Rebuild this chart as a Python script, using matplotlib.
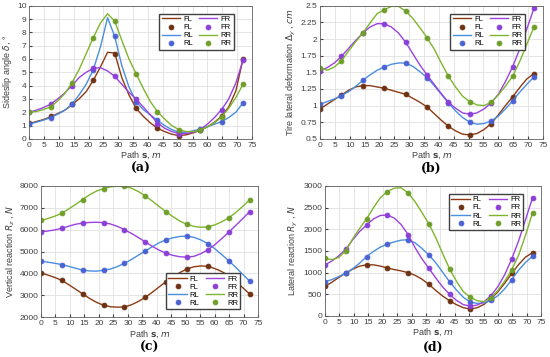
import matplotlib.pyplot as plt

plt.rcParams['font.family'] = ['Liberation Sans', 'DejaVu Sans']

# sample positions of the markers and of the (finer) simulated curves
s_pts = [0, 7.2, 14.4, 21.6, 28.8, 36, 43.2, 50.4, 57.6, 64.8, 72]
s_line = [0, 2.4, 4.8, 7.2, 9.6, 12, 14.4, 16.8, 19.2, 21.6, 24, 26.4, 28.8, 31.2, 33.6, 36,
          38.4, 40.8, 43.2, 45.6, 48, 50.4, 52.8, 55.2, 57.6, 60, 62.4, 64.8, 67.2, 69.6, 72]
wheels = ['FL', 'FR', 'RL', 'RR']

# (a) sideslip angle, deg
a_pts = {
    'FL': [1.2, 1.7, 2.6, 4.4, 6.4, 2.3, 0.8, 0.25, 0.7, 1.7, 6.0],
    'FR': [2.0, 2.6, 4.0, 5.3, 4.7, 3.0, 1.1, 0.4, 0.7, 2.2, 5.9],
    'RL': [1.1, 1.6, 2.6, 5.2, 7.7, 2.8, 1.4, 0.5, 0.75, 1.3, 2.7],
    'RR': [2.05, 2.4, 4.2, 7.6, 8.85, 4.9, 2.05, 0.7, 0.65, 1.65, 4.1],
}
a_line = {
    'FL': [1.15, 1.3, 1.45, 1.65, 1.9, 2.15, 2.55, 3.0, 3.55, 4.4, 5.4, 6.5, 6.45, 4.6, 3.3, 2.3,
           1.7, 1.2, 0.8, 0.55, 0.35, 0.25, 0.3, 0.45, 0.65, 0.9, 1.25, 1.7, 2.4, 3.6, 6.0],
    'FR': [2.0, 2.15, 2.35, 2.6, 3.0, 3.45, 4.0, 4.6, 5.0, 5.3, 5.35, 5.1, 4.7, 4.1, 3.5, 3.0,
           2.4, 1.8, 1.2, 0.8, 0.55, 0.4, 0.4, 0.5, 0.7, 1.1, 1.6, 2.2, 3.0, 4.2, 5.9],
    'RL': [1.1, 1.25, 1.4, 1.6, 1.85, 2.15, 2.6, 3.3, 4.1, 5.2, 6.9, 9.1, 7.7, 5.5, 3.9, 2.8,
           2.2, 1.8, 1.4, 1.0, 0.7, 0.5, 0.5, 0.6, 0.75, 0.9, 1.1, 1.3, 1.6, 2.0, 2.7],
    'RR': [2.0, 2.05, 2.2, 2.4, 2.85, 3.4, 4.2, 5.2, 6.4, 7.6, 8.7, 9.4, 8.85, 7.4, 6.0, 4.9,
           3.8, 2.8, 2.05, 1.5, 1.0, 0.7, 0.55, 0.55, 0.65, 0.9, 1.2, 1.65, 2.3, 3.1, 4.1],
}

# (b) tire lateral deformation, cm
b_pts = {
    'FL': [0.95, 1.16, 1.30, 1.26, 1.17, 0.98, 0.69, 0.56, 0.73, 1.13, 1.48],
    'FR': [1.52, 1.74, 2.09, 2.23, 1.95, 1.46, 1.05, 0.87, 1.04, 1.58, 2.46],
    'RL': [1.02, 1.14, 1.38, 1.58, 1.64, 1.42, 1.04, 0.75, 0.77, 1.07, 1.43],
    'RR': [1.57, 1.67, 2.09, 2.44, 2.42, 2.02, 1.44, 1.06, 1.05, 1.44, 2.18],
}
b_line = {
    'FL': [0.95, 1.02, 1.09, 1.16, 1.23, 1.28, 1.30, 1.30, 1.28, 1.26, 1.23, 1.20, 1.17, 1.11, 1.05, 0.98,
           0.88, 0.78, 0.69, 0.62, 0.57, 0.56, 0.58, 0.64, 0.73, 0.86, 1.0, 1.13, 1.27, 1.40, 1.48],
    'FR': [1.52, 1.57, 1.64, 1.74, 1.86, 1.98, 2.09, 2.18, 2.23, 2.23, 2.18, 2.09, 1.95, 1.78, 1.61, 1.46,
           1.32, 1.18, 1.05, 0.96, 0.89, 0.87, 0.89, 0.95, 1.04, 1.17, 1.36, 1.58, 1.85, 2.15, 2.46],
    'RL': [1.02, 1.06, 1.10, 1.15, 1.21, 1.29, 1.38, 1.46, 1.53, 1.58, 1.62, 1.64, 1.64, 1.59, 1.51, 1.42,
           1.30, 1.17, 1.04, 0.92, 0.82, 0.75, 0.72, 0.73, 0.77, 0.84, 0.95, 1.07, 1.20, 1.32, 1.43],
    'RR': [1.57, 1.53, 1.58, 1.67, 1.82, 1.96, 2.09, 2.24, 2.38, 2.44, 2.49, 2.49, 2.42, 2.31, 2.17, 2.02,
           1.85, 1.64, 1.44, 1.28, 1.14, 1.06, 1.01, 1.00, 1.05, 1.16, 1.29, 1.44, 1.66, 1.92, 2.18],
}

# (c) vertical reaction, N
c_pts = {
    'FL': [4020, 3680, 3060, 2540, 2460, 2900, 3620, 4200, 4320, 3900, 3060],
    'FR': [5900, 6060, 6300, 6320, 6000, 5440, 4920, 4740, 5080, 5880, 6820],
    'RL': [4560, 4400, 4150, 4140, 4460, 5020, 5540, 5700, 5360, 4580, 3650],
    'RR': [6420, 6750, 7380, 7880, 7980, 7550, 6820, 6240, 6130, 6540, 7360],
}
c_line = {
    'FL': [4020, 3920, 3810, 3680, 3480, 3270, 3060, 2850, 2670, 2540, 2470, 2450, 2460, 2560, 2710, 2900,
           3130, 3380, 3620, 3840, 4040, 4200, 4300, 4340, 4320, 4220, 4080, 3900, 3640, 3350, 3060],
    'FR': [5900, 5940, 5990, 6060, 6160, 6250, 6300, 6330, 6340, 6320, 6260, 6150, 6000, 5830, 5640, 5440,
           5240, 5060, 4920, 4820, 4760, 4740, 4780, 4900, 5080, 5310, 5590, 5880, 6190, 6500, 6820],
    'RL': [4560, 4510, 4460, 4400, 4320, 4230, 4150, 4110, 4100, 4140, 4200, 4310, 4460, 4630, 4830, 5020,
           5220, 5400, 5540, 5630, 5690, 5700, 5650, 5530, 5360, 5130, 4860, 4580, 4280, 3960, 3650],
    'RR': [6420, 6510, 6620, 6750, 6950, 7160, 7380, 7600, 7770, 7880, 7960, 7990, 7980, 7900, 7750, 7550,
           7310, 7060, 6820, 6590, 6390, 6240, 6150, 6110, 6130, 6220, 6360, 6540, 6780, 7060, 7360],
}

# (d) lateral reaction, N
d_pts = {
    'FL': [680, 990, 1180, 1110, 1000, 730, 350, 160, 400, 980, 1460],
    'FR': [1180, 1540, 2100, 2330, 1880, 1100, 500, 230, 470, 1320, 2730],
    'RL': [790, 990, 1370, 1660, 1760, 1410, 790, 320, 360, 840, 1380],
    'RR': [1330, 1510, 2240, 2870, 2840, 2130, 1090, 430, 420, 1070, 2380],
}
d_line = {
    'FL': [680, 780, 890, 990, 1080, 1150, 1180, 1180, 1150, 1110, 1070, 1040, 1000, 940, 850, 730,
           590, 460, 350, 260, 190, 160, 190, 270, 400, 560, 760, 980, 1190, 1360, 1460],
    'FR': [1180, 1270, 1390, 1540, 1760, 1950, 2100, 2240, 2320, 2330, 2260, 2110, 1880, 1580, 1320, 1100,
           880, 670, 500, 360, 260, 230, 250, 330, 470, 680, 960, 1320, 1740, 2230, 2730],
    'RL': [790, 840, 910, 990, 1090, 1220, 1370, 1490, 1590, 1660, 1710, 1750, 1760, 1690, 1560, 1410,
           1230, 1010, 790, 600, 430, 320, 290, 300, 360, 470, 630, 840, 1060, 1240, 1380],
    'RR': [1330, 1300, 1350, 1510, 1780, 2020, 2240, 2500, 2730, 2870, 2950, 2960, 2840, 2640, 2390, 2130,
           1810, 1440, 1090, 800, 560, 430, 350, 330, 420, 590, 810, 1070, 1410, 1870, 2380],
}

line_col = {'FL': '#8c3a14', 'FR': '#9b42e0', 'RL': '#4a8ee0', 'RR': '#7fb52e'}
mark_col = {'FL': '#6e3212', 'FR': '#8a3fd6', 'RL': '#4a62d4', 'RR': '#6f9e2a'}

fig = plt.figure(figsize=(5.5, 3.57), dpi=100)
rects = [
    [0.053, 0.611, 0.405, 0.373],
    [0.582, 0.611, 0.405, 0.373],
    [0.0745, 0.112, 0.395, 0.367],
    [0.591, 0.115, 0.393, 0.364],
]
panels = [
    (a_line, a_pts, (0, 10), list(range(0, 11)), None, 'Sideslip angle $\\delta$, °', 'upper right', '(a)'),
    (b_line, b_pts, (0.5, 2.5), [0.5, 0.75, 1, 1.25, 1.5, 1.75, 2, 2.25, 2.5],
     ['0.5', '0.75', '1', '1.25', '1.5', '1.75', '2', '2.25', '2.5'],
     'Tire lateral deformation $\\Delta_y$ , $cm$', 'upper right', '(b)'),
    (c_line, c_pts, (2000, 8000), list(range(2000, 8001, 1000)), None,
     'Vertical reaction $R_z$ , $N$', 'lower right', '(c)'),
    (d_line, d_pts, (0, 3000), list(range(0, 3001, 500)), None,
     'Lateral reaction $R_y$ , $N$', 'upper right', '(d)'),
]

for rect, (lines, pts, ylim, yt, ytl, ylab, loc, tag) in zip(rects, panels):
    ax = fig.add_axes(rect)
    handles = []
    for w in ['FL', 'RL', 'FR', 'RR']:
        h1, = ax.plot(s_line, lines[w], color=line_col[w], lw=1.0, label=w)
        h2, = ax.plot(s_pts, pts[w], 'o', ms=3.5, color=mark_col[w], mec=mark_col[w], mew=0.6, label=w)
        handles += [h1, h2]
    ax.set_xlim(0, 75)
    ax.set_ylim(*ylim)
    ax.set_xticks(range(0, 76, 5))
    ax.set_yticks(yt)
    if ytl:
        ax.set_yticklabels(ytl)
    ax.grid(True, color='#e0e0e0', lw=0.6)
    ax.set_axisbelow(True)
    ax.tick_params(direction='in', labelsize=6, length=2, colors='#404040', pad=2)
    for sp in ax.spines.values():
        sp.set_color('#606060')
        sp.set_linewidth(0.6)
    ax.set_xlabel('Path $\\mathbf{s}$, $m$', fontsize=6.5, color='#404040', labelpad=1)
    ax.set_ylabel(ylab, fontsize=6.5, color='#404040', labelpad=2)
    ax.legend(handles=handles, ncol=2, loc=loc, fontsize=5.5, frameon=True, fancybox=False,
              edgecolor='#404040', framealpha=1, handlelength=2.4, columnspacing=0.8,
              labelspacing=0.1, borderpad=0.3, handletextpad=0.4,
              bbox_to_anchor=(0.935, 0.97) if loc == 'upper right' else (0.935, 0.03))
    x0, y0, wd, ht = rect
    ty = 0.527 if y0 > 0.5 else 0.026
    fig.text(x0 + wd / 2, ty, tag, ha='center', va='center', fontsize=9,
             family='DejaVu Serif', fontweight='bold')

fig.savefig('out.png', dpi=100)
